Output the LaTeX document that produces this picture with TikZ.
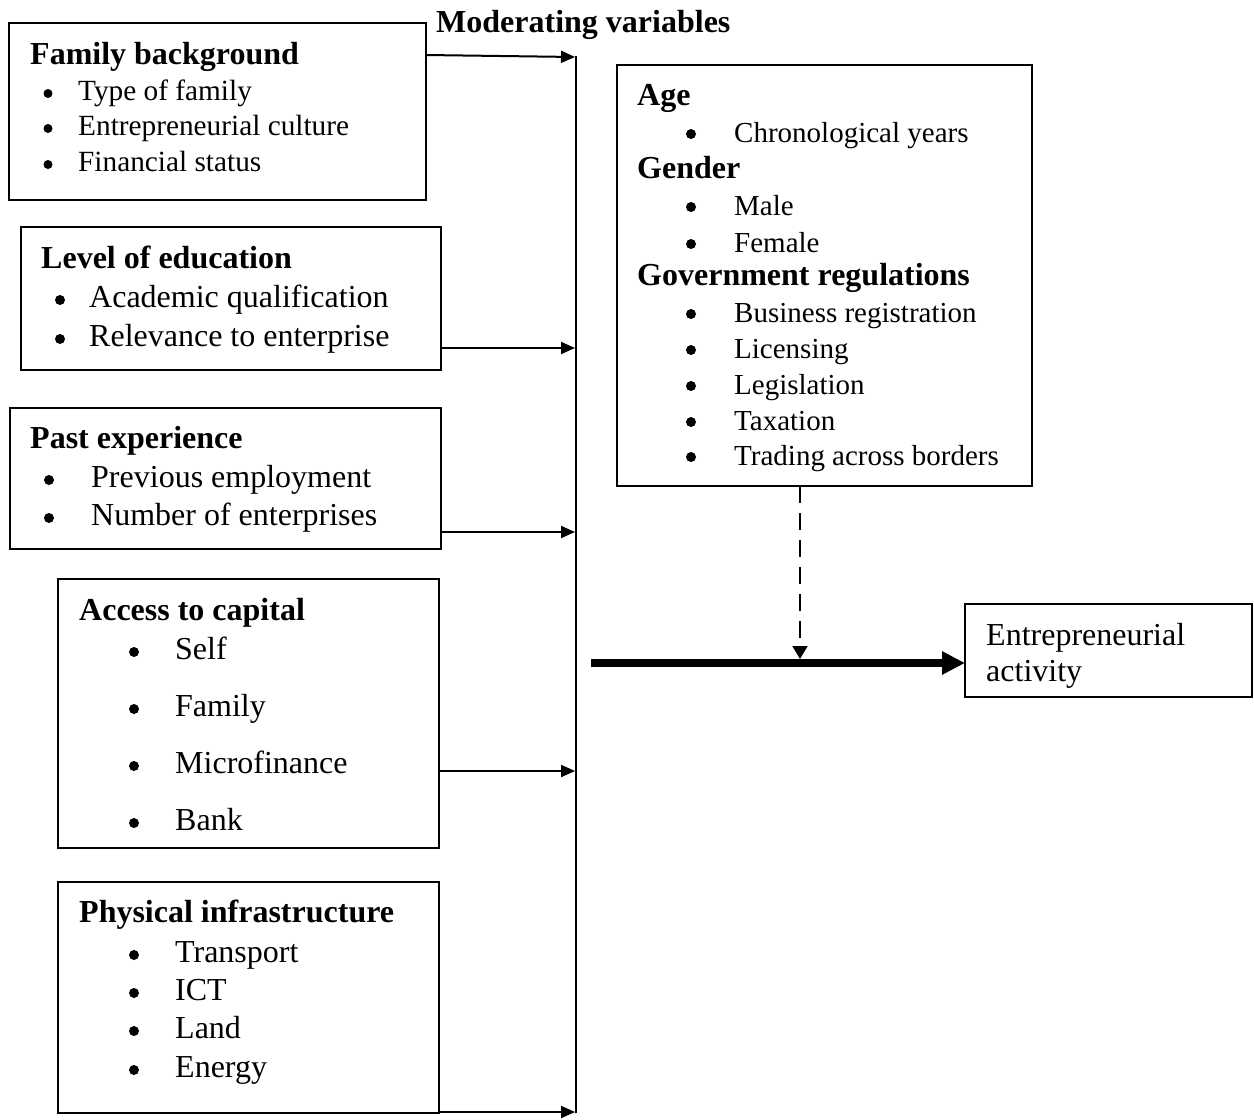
\documentclass[tikz,border=0pt]{standalone}
\usepackage{fontspec}
\setmainfont{Liberation Serif}
\usetikzlibrary{arrows.meta}
\tikzset{
  box/.style={draw, line width=1.6pt, inner sep=0pt, outer sep=0pt, anchor=north west},
  hd/.style={anchor=base west, inner sep=0pt, font=\bfseries\fontsize{32}{38}\selectfont},
  itA/.style={anchor=base west, inner sep=0pt, font=\fontsize{29.3}{34}\selectfont},
  itB/.style={anchor=base west, inner sep=0pt, font=\fontsize{32}{38}\selectfont},
  itC/.style={anchor=base west, inner sep=0pt, font=\fontsize{29}{34}\selectfont},
  bulA/.style={circle, fill, inner sep=0pt, minimum size=9pt, yshift=6.5pt},
  bulB/.style={circle, fill, inner sep=0pt, minimum size=10pt, yshift=7pt},
  bulC/.style={circle, fill, inner sep=0pt, minimum size=10pt, yshift=8pt},
  ln/.style={line width=2pt},
  arr/.style={line width=2pt, -{Triangle[length=14pt,width=12pt]}},
  darr/.style={line width=2pt, dash pattern=on 17pt off 10pt, -{Triangle[length=13pt,width=15pt]}},
  tarr/.style={line width=7.5pt, -{Triangle[length=23pt,width=22pt]}}
}
\begin{document}
\begin{tikzpicture}[x=1pt,y=-1pt]
\useasboundingbox (0,0) rectangle (1254,1120);
\fill[white] (0,0) rectangle (1254,1120);

% title
\node[hd] (modtitle) at (436,32) {Moderating variables};

% Box 1
\node[box, minimum width=417pt, minimum height=177pt] (fam) at (9,23) {};
\node[hd] (famh) at (30,64) {Family background};
\node[bulA] (fb1) at (48,100) {};
\node[itA] (ft1) at (78,100) {Type of family};
\node[bulA] (fb2) at (48,135) {};
\node[itA] (ft2) at (78,135) {Entrepreneurial culture};
\node[bulA] (fb3) at (48,171) {};
\node[itA] (ft3) at (78,171) {Financial status};

% Box 2
\node[box, minimum width=420pt, minimum height=143pt] (edu) at (21,227) {};
\node[hd] (eduh) at (41,268) {Level of education};
\node[bulB] (eb1) at (60,307) {};
\node[itB] (et1) at (89,307) {Academic qualification};
\node[bulB] (eb2) at (60,346) {};
\node[itB] (et2) at (89,346) {Relevance to enterprise};

% Box 3
\node[box, minimum width=431pt, minimum height=141pt] (past) at (10,408) {};
\node[hd] (pasth) at (30,448) {Past experience};
\node[bulB] (pb1) at (49,487) {};
\node[itB] (pt1) at (91,487) {Previous employment};
\node[bulB] (pb2) at (49,525) {};
\node[itB] (pt2) at (91,525) {Number of enterprises};

% Box 4
\node[box, minimum width=381pt, minimum height=269pt] (cap) at (58,579) {};
\node[hd] (caph) at (79,620) {Access to capital};
\node[bulB] (cb1) at (134,659) {};
\node[itB] (ct1) at (175,659) {Self};
\node[bulB] (cb2) at (134,716) {};
\node[itB] (ct2) at (175,716) {Family};
\node[bulB] (cb3) at (134,773) {};
\node[itB] (ct3) at (175,773) {Microfinance};
\node[bulB] (cb4) at (134,830) {};
\node[itB] (ct4) at (175,830) {Bank};

% Box 5
\node[box, minimum width=381pt, minimum height=231pt] (phys) at (58,882) {};
\node[hd] (physh) at (79,922) {Physical infrastructure};
\node[bulB] (xb1) at (134,962) {};
\node[itB] (xt1) at (175,962) {Transport};
\node[bulB] (xb2) at (134,1000) {};
\node[itB] (xt2) at (175,1000) {ICT};
\node[bulB] (xb3) at (134,1038) {};
\node[itB] (xt3) at (175,1038) {Land};
\node[bulB] (xb4) at (134,1077) {};
\node[itB] (xt4) at (175,1077) {Energy};

% Moderating box
\node[box, minimum width=415pt, minimum height=421pt] (mod) at (617,65) {};
\node[hd] (mh1) at (637,105) {Age};
\node[bulC] (mb1) at (691,142) {};
\node[itC] (mt1) at (734,142) {Chronological years};
\node[hd] (mh2) at (637,178) {Gender};
\node[bulC] (mb2) at (691,215) {};
\node[itC] (mt2) at (734,215) {Male};
\node[bulC] (mb3) at (691,252) {};
\node[itC] (mt3) at (734,252) {Female};
\node[hd] (mh3) at (637,285) {Government regulations};
\node[bulC] (mb4) at (691,322) {};
\node[itC] (mt4) at (734,322) {Business registration};
\node[bulC] (mb5) at (691,358) {};
\node[itC] (mt5) at (734,358) {Licensing};
\node[bulC] (mb6) at (691,394) {};
\node[itC] (mt6) at (734,394) {Legislation};
\node[bulC] (mb7) at (691,430) {};
\node[itC] (mt7) at (734,430) {Taxation};
\node[bulC] (mb8) at (691,465) {};
\node[itC] (mt8) at (734,465) {Trading across borders};

% Outcome box
\node[box, minimum width=287pt, minimum height=93pt] (ent) at (965,604) {};
\node[itB] (ent1) at (986,645) {Entrepreneurial};
\node[itB] (ent2) at (986,681) {activity};

% bus line
\coordinate (bustop) at (576,56);
\coordinate (busbot) at (576,1113);
\draw[ln] (bustop) -- (busbot);

\coordinate (b1) at (575,57);
\coordinate (b2) at (575,348);
\coordinate (b3) at (575,532);
\coordinate (b4) at (575,771);
\coordinate (b5) at (575,1112);

\draw[arr] ([yshift=-32pt]fam.north east) -- (b1);
\draw[arr] (edu.east |- b2) -- (b2);
\draw[arr] (past.east |- b3) -- (b3);
\draw[arr] (cap.east |- b4) -- (b4);
\draw[arr] (phys.east |- b5) -- (b5);

% main arrow
\coordinate (mstart) at (591,663);
\draw[tarr] (mstart) -- (ent.west |- mstart);

% dashed moderating arrow
\coordinate (dtip) at (800,659);
\draw[darr] (mod.south -| dtip) -- (dtip);
\end{tikzpicture}
\end{document}
